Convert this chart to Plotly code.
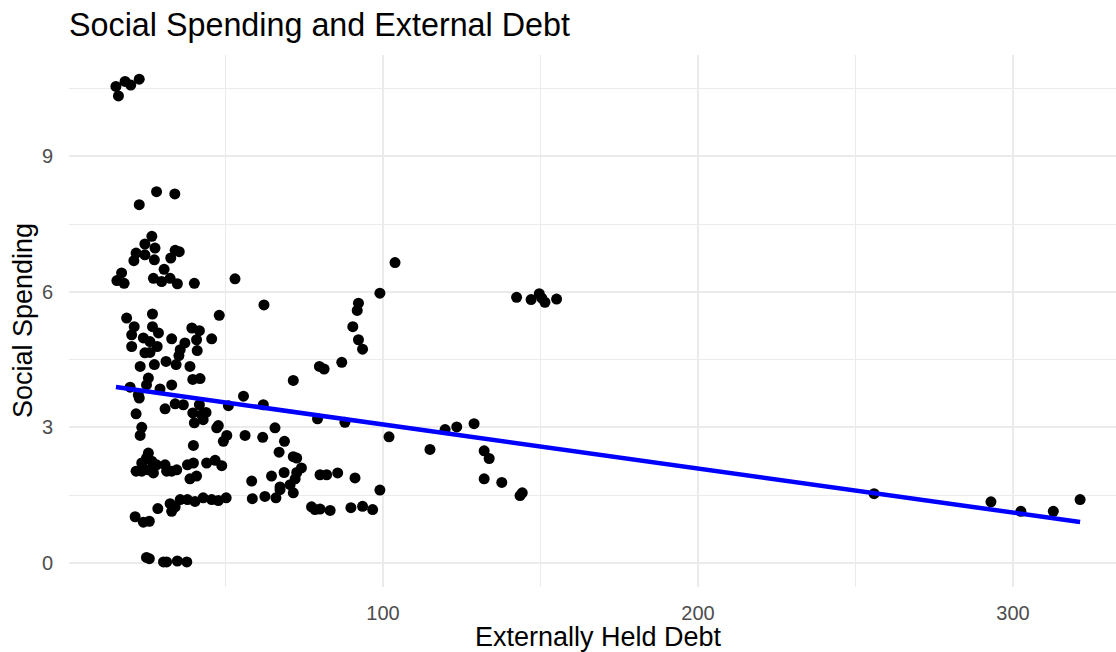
import numpy as np
import plotly.graph_objects as go

# Externally held debt (x) and social spending (y), one pair per observation
debt = [
    15.2, 18.1, 19.9, 22.6, 16.0,
    22.6, 28.1, 33.9,
    26.6, 24.4, 27.6, 21.6, 24.4, 20.9, 27.4, 34.0, 35.3, 32.6, 30.5, 17.0,
    15.5, 17.8, 27.1, 29.7, 32.4, 34.7, 40.1, 53.0,
    18.6, 26.8, 48.0, 21.0, 26.8, 20.2, 23.9, 28.7, 26.0, 28.3,
    20.2, 32.9, 39.3, 41.7, 40.8, 45.6, 37.1, 35.6, 41.0, 24.4,
    26.0, 35.2, 22.9, 27.4, 31.1, 34.3, 38.7, 25.5, 39.6, 41.9,
    32.9, 19.7, 24.9, 29.2, 22.6, 22.3, 34.0, 36.6, 30.8, 41.7,
    39.6, 42.4, 43.8, 50.9, 55.7, 21.6, 40.1, 42.9, 23.4, 22.9,
    47.7, 47.2, 50.4, 49.3, 56.2, 39.8, 25.5, 24.9, 23.4, 26.6,
    28.1, 21.6, 23.4, 25.5, 27.1, 30.8, 31.3, 34.5, 37.9, 39.8,
    38.7, 40.8, 44.0, 46.7, 48.8, 58.3, 32.9, 21.3, 23.9, 25.8,
    28.5, 32.4, 32.9, 34.0, 35.6, 37.9, 40.3, 42.9, 45.6, 47.7,
    50.2, 58.5, 24.9, 25.8, 30.3, 31.3, 34.7, 37.7,
    62.2, 62.0, 71.5, 79.8, 81.3, 86.9, 90.4, 92.2, 91.8, 92.2,
    93.5, 99.0, 79.2, 87.9, 61.8, 65.7, 68.7, 67.0, 71.5, 72.6,
    74.1, 72.6, 68.6, 64.6, 72.1, 67.3, 70.5, 67.3, 71.5, 66.0,
    62.5, 80.0, 82.1, 85.6, 91.1, 99.0, 77.3, 78.4, 80.0, 83.2,
    89.8, 93.5, 96.7, 103.8, 101.9,
    142.4, 147.0, 149.6, 150.4, 151.4, 155.1, 119.7, 123.4, 128.9, 114.9,
    132.1, 133.7, 132.1, 137.7, 143.5, 144.2,
    255.9, 293.0, 302.5, 312.8, 321.3,
]
spending = [
    10.55, 10.66, 10.58, 10.71, 10.34,
    7.93, 8.22, 8.17,
    7.23, 7.06, 6.97, 6.86, 6.82, 6.69, 6.71, 6.92, 6.89, 6.75, 6.50, 6.42,
    6.25, 6.19, 6.30, 6.23, 6.30, 6.18, 6.19, 6.29,
    5.42, 5.51, 5.48, 5.23, 5.23, 5.05, 4.98, 5.09, 4.90, 4.79,
    4.79, 4.96, 5.20, 5.14, 4.94, 4.96, 4.87, 4.72, 4.70, 4.65,
    4.66, 4.59, 4.35, 4.39, 4.46, 4.39, 4.35, 4.09, 4.06, 4.08,
    3.94, 3.89, 3.94, 3.85, 3.65, 3.72, 3.52, 3.50, 3.41, 3.50,
    3.32, 3.28, 3.33, 3.48, 3.69, 3.30, 3.10, 3.17, 3.00, 2.82,
    3.04, 2.99, 2.82, 2.69, 2.82, 2.60, 2.43, 2.32, 2.21, 2.25,
    2.17, 2.03, 2.03, 2.06, 1.99, 2.17, 2.03, 2.06, 2.17, 2.21,
    1.86, 1.92, 2.21, 2.27, 2.15, 1.81, 2.03, 1.02, 0.90, 0.92,
    1.20, 1.31, 1.14, 1.24, 1.40, 1.40, 1.36, 1.44, 1.40, 1.38,
    1.44, 1.42, 0.12, 0.09, 0.02, 0.02, 0.04, 0.02,
    5.71, 3.50, 4.04, 4.35, 4.29, 4.44, 5.23, 5.75, 5.59, 4.94,
    4.73, 5.97, 3.19, 3.11, 2.78, 2.99, 2.69, 2.45, 2.35, 2.32,
    2.10, 2.00, 2.00, 1.92, 1.86, 1.68, 1.73, 1.62, 1.55, 1.44,
    1.47, 1.95, 1.95, 1.99, 1.88, 1.61, 1.24, 1.18, 1.19, 1.16,
    1.22, 1.25, 1.18, 6.65, 2.79,
    5.88, 5.83, 5.96, 5.86, 5.77, 5.84, 2.95, 3.01, 3.08, 2.51,
    2.48, 2.31, 1.86, 1.78, 1.49, 1.55,
    1.53, 1.35, 1.14, 1.14, 1.40,
]

x_ticks = [100, 200, 300]
y_ticks = [0, 3, 6, 9]

# Linear trend of spending on debt, as reported with the chart
trend_intercept = 4.04
trend_slope = -0.00976

x = np.array(debt)
fit_x = np.array([x.min(), x.max()])
fit_y = trend_intercept + trend_slope * fit_x

FONT = "Liberation Sans, Arial, Helvetica, sans-serif"
GRID = "#EBEBEB"
CLEAR = "rgba(0,0,0,0)"

fig = go.Figure()
fig.add_trace(go.Scatter(
    x=debt, y=spending, mode="markers",
    marker=dict(color="black", size=11, line=dict(width=0)),
    showlegend=False, hoverinfo="x+y",
))
fig.add_trace(go.Scatter(
    x=fit_x, y=fit_y, mode="lines",
    line=dict(color="#0000FF", width=4.5),
    showlegend=False, hoverinfo="skip",
))

fig.update_layout(
    width=1116, height=652, autosize=False,
    margin=dict(l=69, r=0, t=55, b=65),
    paper_bgcolor="white", plot_bgcolor="white",
    font=dict(family=FONT, color="black"),
    title=dict(
        text="Social Spending and External Debt",
        font=dict(family=FONT, size=32.3, color="black"),
        x=0, xref="paper", xanchor="left",
        y=1 - 25 / 652, yref="container", yanchor="middle",
    ),
    annotations=[
        dict(text="Externally Held Debt", xref="paper", yref="paper",
             x=0.5057, y=-0.0934, xanchor="center", yanchor="middle",
             showarrow=False, font=dict(family=FONT, size=27, color="black")),
        dict(text="Social Spending", xref="paper", yref="paper",
             x=-0.0439, y=0.5, xanchor="center", yanchor="middle",
             textangle=-90, showarrow=False,
             font=dict(family=FONT, size=27, color="black")),
    ],
)

fig.update_xaxes(
    range=[0.3, 332.7], tickvals=x_ticks, ticktext=[str(v) for v in x_ticks],
    showgrid=True, gridcolor=GRID, gridwidth=2,
    minor=dict(tickvals=[50, 150, 250], showgrid=True, gridcolor=GRID, gridwidth=1.2),
    zeroline=False, showline=False,
    ticks="outside", ticklen=8, tickcolor=CLEAR,
    tickfont=dict(family=FONT, size=20, color="#4D4D4D"),
)
fig.update_yaxes(
    range=[-0.536, 11.246], tickvals=y_ticks, ticktext=[str(v) for v in y_ticks],
    showgrid=True, gridcolor=GRID, gridwidth=2,
    minor=dict(tickvals=[1.5, 4.5, 7.5, 10.5], showgrid=True, gridcolor=GRID, gridwidth=1.2),
    zeroline=False, showline=False,
    ticks="outside", ticklen=11, tickcolor=CLEAR,
    tickfont=dict(family=FONT, size=20, color="#4D4D4D"),
)

fig.write_html("out.html")
